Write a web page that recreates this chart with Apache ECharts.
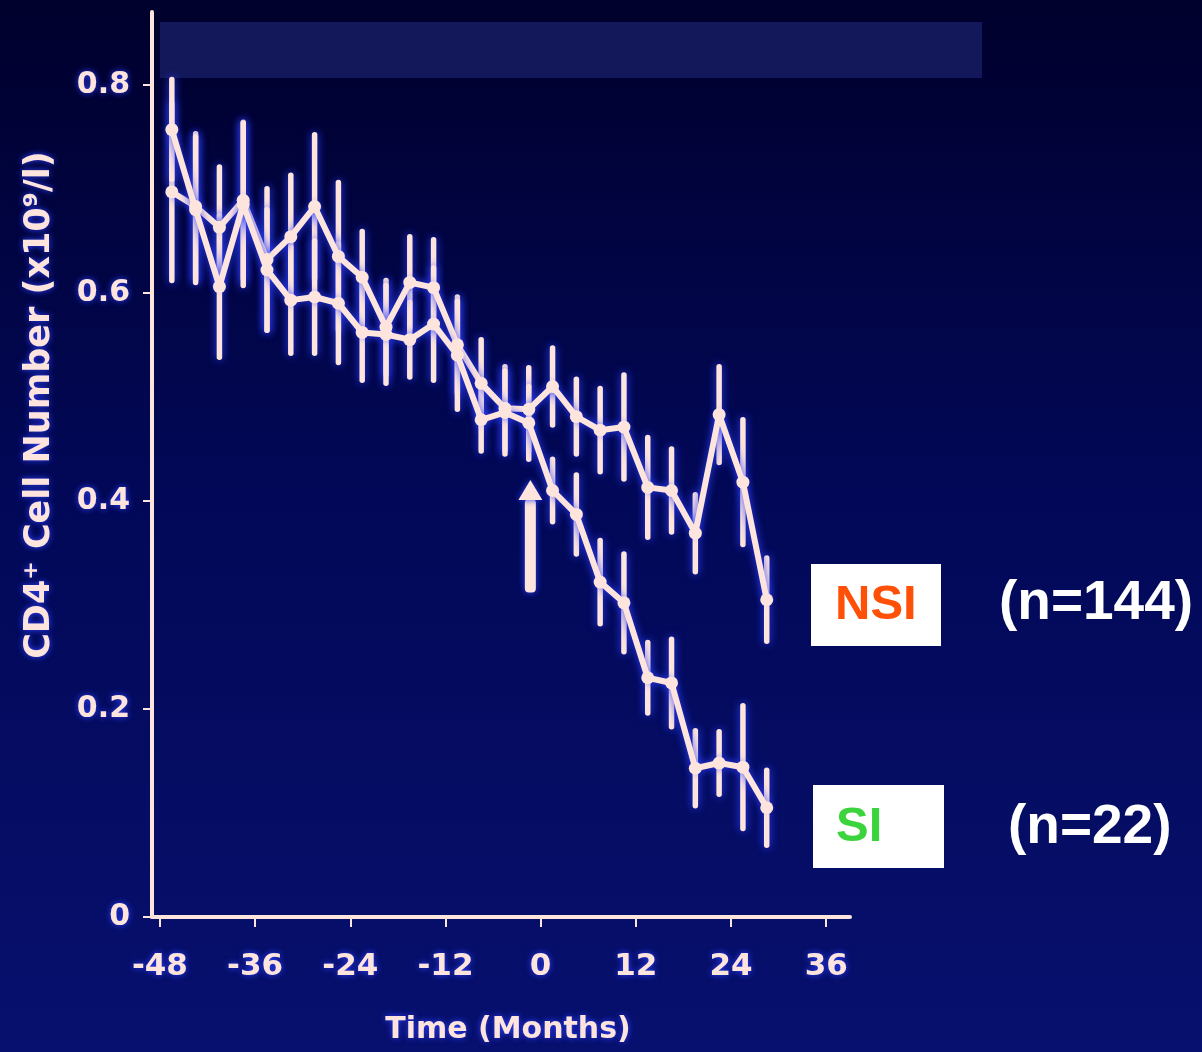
<!DOCTYPE html>
<html><head><meta charset="utf-8">
<script src="https://cdn.jsdelivr.net/npm/echarts@6/dist/echarts.min.js"></script>
<style>html,body{margin:0;padding:0;background:#000030}#c{width:1202px;height:1052px}</style>
</head><body><div id="c"></div>
<script>
// Time (months) of each measurement
const months = [-46.5,-43.5,-40.5,-37.5,-34.5,-31.5,-28.5,-25.5,-22.5,-19.5,-16.5,-13.5,-10.5,-7.5,-4.5,-1.5,1.5,4.5,7.5,10.5,13.5,16.5,19.5,22.5,25.5,28.5];
// NSI group (n=144): mean CD4+ and error half-width
const nsiMean = [0.697,0.683,0.663,0.689,0.632,0.654,0.683,0.635,0.615,0.567,0.610,0.605,0.550,0.513,0.489,0.488,0.510,0.481,0.468,0.471,0.413,0.410,0.369,0.483,0.418,0.305];
const nsiErr  = [0.085,0.070,0.058,0.075,0.068,0.059,0.069,0.071,0.044,0.045,0.044,0.046,0.046,0.042,0.040,0.040,0.037,0.036,0.040,0.050,0.048,0.040,0.037,0.046,0.060,0.040];
// SI group (n=22)
const siMean  = [0.757,0.680,0.606,0.685,0.622,0.593,0.596,0.590,0.562,0.560,0.555,0.570,0.540,0.478,0.485,0.475,0.410,0.387,0.322,0.302,0.230,0.225,0.143,0.148,0.144,0.105];
const siErr   = [0.048,0.070,0.068,0.078,0.058,0.051,0.054,0.057,0.046,0.047,0.036,0.054,0.052,0.030,0.040,0.035,0.030,0.038,0.040,0.047,0.034,0.042,0.036,0.030,0.059,0.036];
const xTicks = [-48,-36,-24,-12,0,12,24,36];
const yTicks = [0,0.2,0.4,0.6,0.8];
// arrow marking SI conversion: [month, tail value, head value]
const arrowMark = [[-1.3,0.312,0.420]];

const FG = '#fde4dc';
const GLOW = '#2f40ff';

function errSeries(mean, err){
  return {
    type:'custom', z:3,
    data: months.map((m,i)=>[m, mean[i]-err[i], mean[i]+err[i]]),
    renderItem(params, api){
      const a = api.coord([api.value(0), api.value(1)]);
      const b = api.coord([api.value(0), api.value(2)]);
      return {type:'line', shape:{x1:a[0],y1:a[1],x2:b[0],y2:b[1]},
        style:{stroke:FG, lineWidth:5.5, lineCap:'round', shadowBlur:8, shadowColor:GLOW}};
    }
  };
}
function lineSeries(name, mean){
  return {
    name, type:'line', z:4,
    data: months.map((m,i)=>[m, mean[i]]),
    symbol:'circle', symbolSize:13,
    itemStyle:{color:FG},
    lineStyle:{color:FG, width:6, shadowBlur:8, shadowColor:GLOW},
    emphasis:{disabled:true}, animation:false
  };
}

const chart = echarts.init(document.getElementById('c'));
chart.setOption({
  animation:false,
  backgroundColor:{type:'linear',x:0,y:0,x2:0,y2:1,colorStops:[
    {offset:0,color:'#00002c'},{offset:0.45,color:'#020856'},{offset:1,color:'#07106e'}]},
  grid:{left:152,right:352,top:12,bottom:135},
  xAxis:{type:'value',min:-49,max:39,
    axisLine:{show:true,onZero:false,lineStyle:{color:FG,width:4}},
    axisTick:{show:true,customValues:xTicks,length:10,lineStyle:{color:FG,width:2}},
    axisLabel:{customValues:xTicks,margin:34,color:FG,fontFamily:'DejaVu Sans',fontWeight:'bold',fontSize:31,
      textShadowColor:GLOW,textShadowBlur:6},
    splitLine:{show:false}},
  yAxis:{type:'value',min:0,max:0.87,
    axisLine:{show:true,onZero:false,lineStyle:{color:FG,width:4}},
    axisTick:{show:true,customValues:yTicks,length:9,lineStyle:{color:FG,width:2}},
    axisLabel:{customValues:yTicks,margin:22,color:FG,fontFamily:'DejaVu Sans',fontWeight:'bold',fontSize:30,
      textShadowColor:GLOW,textShadowBlur:6,
      formatter:v=> v===0 ? '0' : v.toFixed(1)},
    splitLine:{show:false}},
  series:[
    errSeries(nsiMean, nsiErr),
    errSeries(siMean, siErr),
    lineSeries('NSI', nsiMean),
    lineSeries('SI', siMean),
    {type:'custom', z:5, data:arrowMark,
      renderItem(params, api){
        const x = api.value(0);
        const tail = api.coord([x, api.value(1)]);
        const head = api.coord([x, api.value(2)]);
        const hb = head[1] + 20;
        return {type:'group', children:[
          {type:'rect', shape:{x:tail[0]-5.5, y:hb-1, width:11, height:tail[1]-hb+1, r:4},
            style:{fill:FG, shadowBlur:6, shadowColor:GLOW}},
          {type:'polygon', shape:{points:[[head[0],head[1]],[head[0]-12,hb],[head[0]+12,hb]]},
            style:{fill:FG, shadowBlur:6, shadowColor:GLOW}}
        ]};
      }}
  ],
  graphic:[
    {type:'rect', z:1, shape:{x:160,y:22,width:822,height:56}, style:{fill:'#13185a'}},
    {type:'text', x:40, y:405, rotation:Math.PI/2,
      style:{text:'CD4⁺ Cell Number (x10⁹/l)', fill:FG, font:'bold 35px "DejaVu Sans"',
        textAlign:'center', textVerticalAlign:'middle', textShadowColor:GLOW, textShadowBlur:6}},
    {type:'text', x:508, y:1030,
      style:{text:'Time (Months)', fill:FG, font:'bold 30px "DejaVu Sans"',
        textAlign:'center', textVerticalAlign:'middle', textShadowColor:GLOW, textShadowBlur:6}},
    {type:'rect', shape:{x:811,y:564,width:130,height:82}, style:{fill:'#ffffff'}},
    {type:'text', x:835, y:605, style:{text:'NSI', fill:'#ff5008', font:'bold 49px "Liberation Sans"', textAlign:'left', textVerticalAlign:'middle'}},
    {type:'rect', shape:{x:813,y:785,width:131,height:83}, style:{fill:'#ffffff'}},
    {type:'text', x:836, y:827, style:{text:'SI', fill:'#3cd43c', font:'bold 49px "Liberation Sans"', textAlign:'left', textVerticalAlign:'middle'}},
    {type:'text', x:999, y:604, style:{text:'(n=144)', fill:'#ffffff', font:'bold 55px "Liberation Sans"', textAlign:'left', textVerticalAlign:'middle'}},
    {type:'text', x:1008, y:828, style:{text:'(n=22)', fill:'#ffffff', font:'bold 55px "Liberation Sans"', textAlign:'left', textVerticalAlign:'middle'}}
  ]
});
</script></body></html>
